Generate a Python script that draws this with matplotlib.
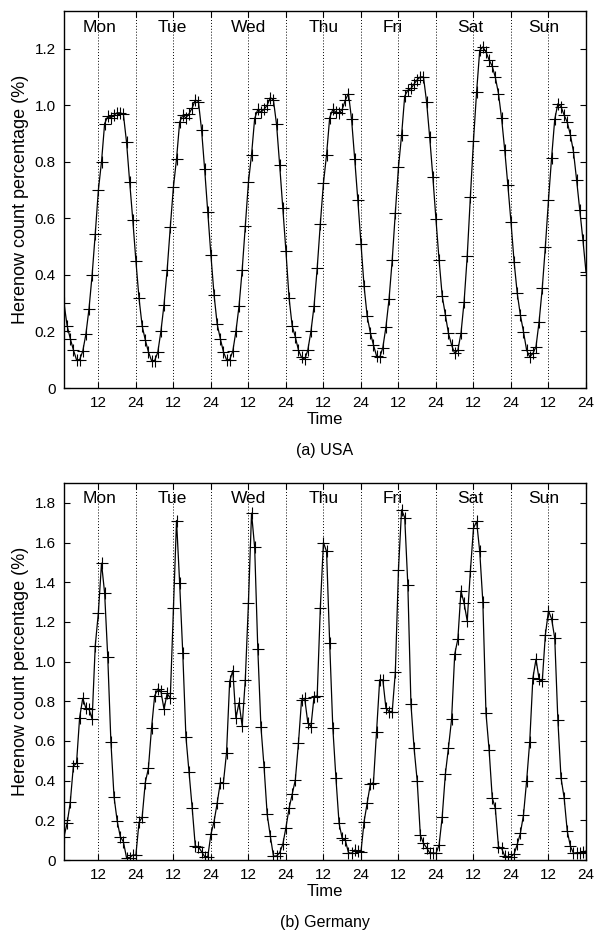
import numpy as np
import matplotlib
matplotlib.use("Agg")
import matplotlib.pyplot as plt

plt.rcParams['font.family'] = ['Liberation Sans', 'DejaVu Sans']

# === Données : pourcentage horaire (heures 1..168, lundi -> dimanche) ===
days = ["Mon", "Tue", "Wed", "Thu", "Fri", "Sat", "Sun"]

usa_mon = [0.30, 0.22, 0.175, 0.135, 0.10, 0.10, 0.13, 0.19, 0.28, 0.40, 0.545, 0.70,
           0.80, 0.935, 0.96, 0.955, 0.965, 0.973, 0.973, 0.968, 0.87, 0.73, 0.595, 0.45]
usa_tue = [0.317, 0.22, 0.17, 0.128, 0.097, 0.097, 0.126, 0.20, 0.295, 0.417, 0.568, 0.71,
           0.81, 0.94, 0.965, 0.955, 0.97, 0.99, 1.018, 1.013, 0.914, 0.773, 0.623, 0.47]
usa_wed = [0.33, 0.226, 0.175, 0.128, 0.10, 0.10, 0.13, 0.20, 0.29, 0.417, 0.572, 0.727,
           0.825, 0.953, 0.985, 0.975, 0.985, 1.00, 1.027, 1.018, 0.932, 0.788, 0.638, 0.484]
usa_thu = [0.319, 0.219, 0.181, 0.134, 0.108, 0.101, 0.134, 0.20, 0.29, 0.423, 0.58, 0.724,
           0.825, 0.956, 0.985, 0.975, 0.973, 0.985, 1.018, 1.041, 0.95, 0.81, 0.665, 0.51]
usa_fri = [0.36, 0.253, 0.196, 0.152, 0.113, 0.108, 0.143, 0.216, 0.316, 0.452, 0.62, 0.78,
           0.894, 1.032, 1.053, 1.059, 1.075, 1.09, 1.10, 1.10, 1.012, 0.886, 0.747, 0.596]
usa_sat = [0.452, 0.325, 0.258, 0.193, 0.152, 0.122, 0.134, 0.193, 0.305, 0.466, 0.674, 0.874,
           1.047, 1.194, 1.206, 1.188, 1.16, 1.138, 1.098, 1.041, 0.953, 0.841, 0.717, 0.587]
usa_sun = [0.446, 0.335, 0.258, 0.199, 0.134, 0.11, 0.122, 0.146, 0.235, 0.352, 0.50, 0.665,
           0.815, 0.95, 1.005, 0.995, 0.965, 0.94, 0.895, 0.835, 0.735, 0.63, 0.525, 0.41]

ger_mon = [0.118, 0.185, 0.29, 0.474, 0.487, 0.718, 0.815, 0.765, 0.76, 0.71, 1.08, 1.247,
           1.496, 1.345, 1.022, 0.597, 0.32, 0.198, 0.118, 0.092, 0.012, 0.012, 0.025, 0.025]
ger_tue = [0.19, 0.215, 0.39, 0.462, 0.664, 0.827, 0.862, 0.85, 0.76, 0.84, 0.815, 1.27,
           1.711, 1.395, 1.042, 0.622, 0.445, 0.264, 0.07, 0.067, 0.042, 0.017, 0.017, 0.13]
ger_wed = [0.193, 0.286, 0.39, 0.39, 0.541, 0.90, 0.955, 0.715, 0.793, 0.676, 0.908, 1.294,
           1.748, 1.575, 1.064, 0.672, 0.47, 0.23, 0.121, 0.02, 0.02, 0.037, 0.079, 0.163]
ger_thu = [0.26, 0.331, 0.403, 0.588, 0.806, 0.815, 0.692, 0.672, 0.824, 0.827, 1.269, 1.60,
           1.555, 1.092, 0.667, 0.412, 0.185, 0.109, 0.10, 0.037, 0.034, 0.05, 0.045, 0.04]
ger_fri = [0.193, 0.286, 0.382, 0.39, 0.647, 0.908, 0.908, 0.765, 0.748, 0.748, 0.946, 1.462,
           1.765, 1.726, 1.387, 0.785, 0.563, 0.398, 0.126, 0.084, 0.062, 0.036, 0.036, 0.033]
ger_sat = [0.076, 0.218, 0.432, 0.566, 0.709, 1.037, 1.113, 1.356, 1.294, 1.205, 1.454, 1.672,
           1.706, 1.555, 1.30, 0.74, 0.555, 0.314, 0.26, 0.067, 0.059, 0.02, 0.017, 0.017]
ger_sun = [0.03, 0.079, 0.134, 0.227, 0.398, 0.597, 0.916, 1.012, 0.911, 0.90, 1.135, 1.256,
           1.215, 1.118, 0.705, 0.415, 0.314, 0.146, 0.07, 0.034, 0.037, 0.037, 0.04, 0.045]

usa = usa_mon + usa_tue + usa_wed + usa_thu + usa_fri + usa_sat + usa_sun
germany = ger_mon + ger_tue + ger_wed + ger_thu + ger_fri + ger_sat + ger_sun
hours = np.arange(1, len(usa) + 1)

x_ticks = np.arange(12, 169, 12)
x_labels = ["12" if t % 24 else "24" for t in x_ticks]
usa_yticks = [0, 0.2, 0.4, 0.6, 0.8, 1.0, 1.2]
ger_yticks = [0, 0.2, 0.4, 0.6, 0.8, 1.0, 1.2, 1.4, 1.6, 1.8]

# position des noms de jours (heure)
day_pos = [12.5, 35.5, 60, 84, 106, 131, 154.5]


def fmt(v):
    return "0" if v == 0 else f"{v:.1f}"


def panel(ax, y, ymax, yticks, label_y, caption):
    ax.plot(hours, y, color='black', lw=0.9, marker='+', ms=8.5, mew=0.8)
    ax.set_xlim(1, 168)
    ax.set_ylim(0, ymax)
    for t in x_ticks[:-1]:
        ax.axvline(t, color='black', ls=(0, (1, 2)), lw=0.7, zorder=0)
    ax.set_xticks(x_ticks)
    ax.set_xticklabels(x_labels)
    ax.set_yticks(yticks)
    ax.set_yticklabels([fmt(v) for v in yticks])
    ax.tick_params(direction='in', top=True, right=True, length=4, width=0.8,
                   labelsize=11, pad=6)
    for s in ax.spines.values():
        s.set_linewidth(1.0)
    for d, p in zip(days, day_pos):
        ax.text(p, label_y, d, ha='center', va='center', fontsize=12.5)
    ax.set_xlabel("Time", fontsize=12, labelpad=1)
    ax.set_ylabel("Herenow count percentage (%)", fontsize=13, labelpad=4)
    ax.text(0.5, -0.165, caption, transform=ax.transAxes, ha='center',
            va='center', fontsize=11.5)


fig = plt.figure(figsize=(5.95, 9.32), dpi=100)
ax1 = fig.add_axes([64 / 595, 1 - 388 / 932, 522 / 595, 377 / 932])
ax2 = fig.add_axes([64 / 595, 1 - 860 / 932, 522 / 595, 377 / 932])

panel(ax1, usa, 1.333, usa_yticks, 1.275, "(a) USA")
panel(ax2, germany, 1.9, ger_yticks, 1.82, "(b) Germany")

fig.savefig("out.png", dpi=100)
